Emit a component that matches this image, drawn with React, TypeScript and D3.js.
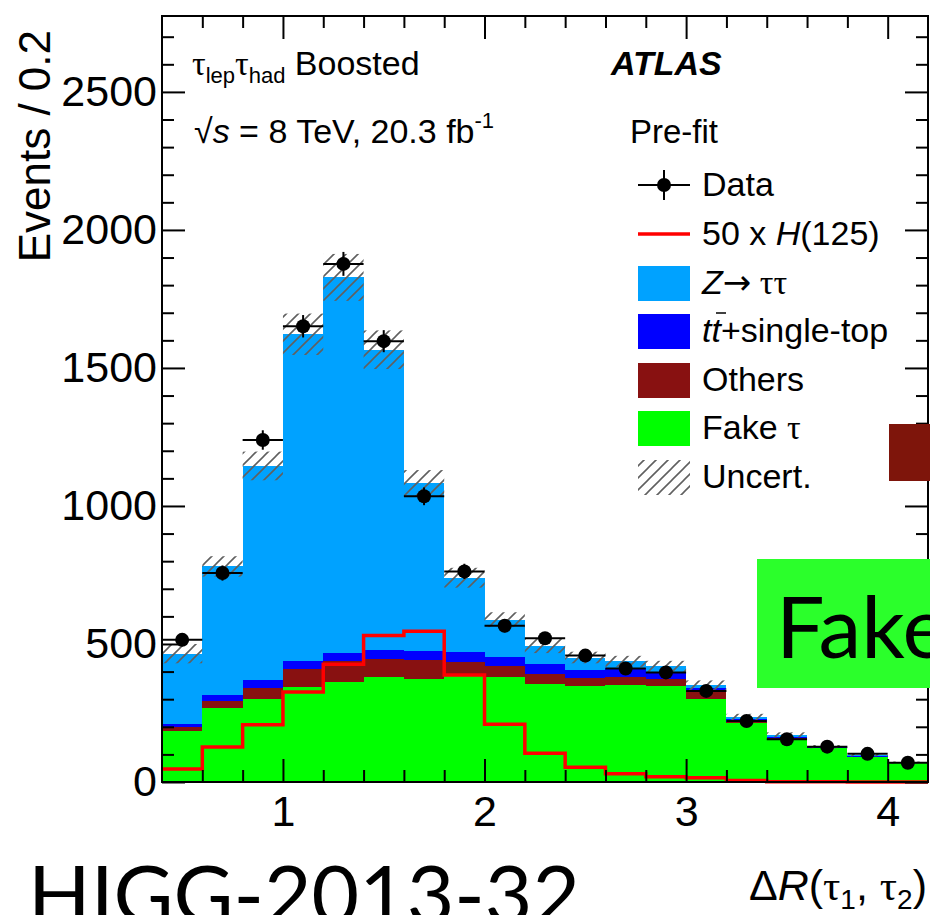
import { useEffect, useRef } from "react";
import * as d3 from "d3";

// ΔR(τ1, τ2) bins, width 0.2
const binCenters = [0.5, 0.7, 0.9, 1.1, 1.3, 1.5, 1.7, 1.9, 2.1, 2.3, 2.5, 2.7, 2.9, 3.1, 3.3, 3.5, 3.7, 3.9, 4.1];
const binWidth = 0.2;

const dataCounts = [515, 757, 1239, 1651, 1877, 1597, 1035, 763, 566, 521, 458, 411, 397, 330, 221, 155, 128, 102, 70];
const fakeTau = [185, 267, 301, 344, 362, 379, 374, 385, 380, 356, 346, 350, 348, 301, 213, 155, 122, 90, 68];
const others = [16, 25, 39, 66, 77, 66, 68, 48, 42, 36, 31, 32, 25, 27, 6, 3, 2, 2, 1];
const ttbar = [9, 23, 30, 30, 28, 34, 33, 37, 30, 34, 27, 31, 25, 12, 9, 6, 2, 4, 1];
const ztautau = [255, 466, 775, 1182, 1361, 1087, 607, 270, 136, 68, 47, 24, 21, 11, 7, 7, 2, 2, 0];
const signal50 = [47, 127, 207, 326, 427, 531, 546, 388, 209, 104, 53, 30, 19, 15, 5, 1, 1, 0, 0];
const uncert = [35, 37, 52, 75, 85, 70, 48, 36, 27, 27, 21, 20, 20, 17, 12, 9, 6, 5, 4];

const xMajorTicks = [1, 2, 3, 4];
const yMajorTicks = [0, 500, 1000, 1500, 2000, 2500];

const colors: Record<string, string> = {
  fake: "#00ff00",
  others: "#881111",
  ttbar: "#0000ff",
  ztt: "#00a2ff",
};

const SANS = "'Liberation Sans', Arial, Helvetica, sans-serif";
const SERIF = "'Liberation Serif', 'DejaVu Serif', serif";

export default function App() {
  const gRef = useRef<SVGGElement>(null);

  useEffect(() => {
    if (!gRef.current) return;
    const g = d3.select(gRef.current);
    g.selectAll("*").remove();

    const x = d3.scaleLinear().domain([0.4, 4.2]).range([162, 928]);
    const y = d3.scaleLinear().domain([0, 2775]).range([782, 16]);
    const lo = (c: number) => x(c - binWidth / 2);
    const hi = (c: number) => x(c + binWidth / 2);

    const rows = binCenters.map((c, i) => ({
      c,
      fake: fakeTau[i],
      others: others[i],
      ttbar: ttbar[i],
      ztt: ztautau[i],
    }));
    const layers = d3.stack<any>().keys(["fake", "others", "ttbar", "ztt"])(rows);

    layers.forEach((layer) => {
      g.append("g")
        .selectAll("rect")
        .data(layer)
        .join("rect")
        .attr("x", (d: any) => lo(d.data.c))
        .attr("width", (d: any) => hi(d.data.c) - lo(d.data.c))
        .attr("y", (d) => y(d[1]))
        .attr("height", (d) => y(d[0]) - y(d[1]))
        .attr("fill", colors[layer.key])
        .attr("shape-rendering", "crispEdges");
    });

    // uncertainty band (hatched)
    const totals = rows.map((r) => r.fake + r.others + r.ttbar + r.ztt);
    g.append("g")
      .selectAll("rect")
      .data(binCenters)
      .join("rect")
      .attr("x", (c) => lo(c))
      .attr("width", (c) => hi(c) - lo(c))
      .attr("y", (_, i) => y(totals[i] + uncert[i]))
      .attr("height", (_, i) => y(totals[i] - uncert[i]) - y(totals[i] + uncert[i]))
      .attr("fill", "url(#hatch)");

    // 50 x H(125) as step outline
    const sigPts: [number, number][] = binCenters.flatMap((c, i) => [
      [lo(c), y(signal50[i])] as [number, number],
      [hi(c), y(signal50[i])] as [number, number],
    ]);
    g.append("path")
      .attr("d", d3.line()(sigPts))
      .attr("fill", "none")
      .attr("stroke", "#ff0000")
      .attr("stroke-width", 3.5);

    // data points with error bars
    const dg = g.append("g");
    binCenters.forEach((c, i) => {
      const v = dataCounts[i];
      const e = Math.sqrt(v);
      dg.append("line")
        .attr("x1", lo(c)).attr("x2", hi(c))
        .attr("y1", y(v)).attr("y2", y(v))
        .attr("stroke", "#000").attr("stroke-width", 2);
      dg.append("line")
        .attr("x1", x(c)).attr("x2", x(c))
        .attr("y1", y(v - e)).attr("y2", y(v + e))
        .attr("stroke", "#000").attr("stroke-width", 2);
      dg.append("circle")
        .attr("cx", x(c)).attr("cy", y(v)).attr("r", 7)
        .attr("fill", "#000");
    });

    // axes with inward ticks
    const xMinor = d3.range(3, 21).filter((k) => k % 5 !== 0).map((k) => k * 0.2);
    const yMinor = d3.range(1, 28).filter((k) => k % 5 !== 0).map((k) => k * 100);

    const style = (sel: any, labels: boolean) => {
      sel.select(".domain").remove();
      sel.selectAll("line").attr("stroke", "#000").attr("stroke-width", 2);
      sel.attr("font-size", 43).attr("font-family", SANS);
      if (labels) sel.selectAll("text").attr("fill", "#000");
    };

    g.append("g").attr("transform", "translate(0,782)")
      .call(d3.axisBottom(x).tickValues(xMajorTicks).tickSizeInner(-23).tickSizeOuter(0).tickPadding(13).tickFormat(d3.format("d")))
      .call((s) => style(s, true));
    g.append("g").attr("transform", "translate(0,782)")
      .call(d3.axisBottom(x).tickValues(xMinor).tickSizeInner(-12).tickSizeOuter(0).tickFormat(() => ""))
      .call((s) => style(s, false));
    g.append("g").attr("transform", "translate(0,16)")
      .call(d3.axisTop(x).tickValues(xMajorTicks).tickSizeInner(-23).tickSizeOuter(0).tickFormat(() => ""))
      .call((s) => style(s, false));
    g.append("g").attr("transform", "translate(0,16)")
      .call(d3.axisTop(x).tickValues(xMinor).tickSizeInner(-12).tickSizeOuter(0).tickFormat(() => ""))
      .call((s) => style(s, false));

    g.append("g").attr("transform", "translate(162,0)")
      .call(d3.axisLeft(y).tickValues(yMajorTicks).tickSizeInner(-23).tickSizeOuter(0).tickPadding(5).tickFormat(d3.format("d")))
      .call((s) => style(s, true));
    g.append("g").attr("transform", "translate(162,0)")
      .call(d3.axisLeft(y).tickValues(yMinor).tickSizeInner(-12).tickSizeOuter(0).tickFormat(() => ""))
      .call((s) => style(s, false));
    g.append("g").attr("transform", "translate(928,0)")
      .call(d3.axisRight(y).tickValues(yMajorTicks).tickSizeInner(-23).tickSizeOuter(0).tickFormat(() => ""))
      .call((s) => style(s, false));
    g.append("g").attr("transform", "translate(928,0)")
      .call(d3.axisRight(y).tickValues(yMinor).tickSizeInner(-12).tickSizeOuter(0).tickFormat(() => ""))
      .call((s) => style(s, false));

    // frame
    g.append("rect")
      .attr("x", x(0.4)).attr("y", y(2775))
      .attr("width", x(4.2) - x(0.4)).attr("height", y(0) - y(2775))
      .attr("fill", "none").attr("stroke", "#000").attr("stroke-width", 2);
  }, []);

  const legendRows = [185, 234, 283, 331, 380, 428, 477];

  return (
    <svg
      width={930}
      height={915}
      style={{ position: "absolute", left: 0, top: 0, background: "#fff" }}
      fontFamily={SANS}
    >
      <defs>
        <pattern id="hatch" patternUnits="userSpaceOnUse" width={12} height={12}>
          <path d="M-3,3 L3,-3 M0,12 L12,0 M9,15 L15,9" stroke="#606060" strokeWidth={1.6} />
        </pattern>
      </defs>
      <rect x={0} y={0} width={930} height={915} fill="#fff" />
      <g ref={gRef} />

      {/* labels */}
      <text x={192} y={75} fontSize={34}>
        <tspan fontFamily={SERIF}>τ</tspan>
        <tspan fontSize={22} dy={8}>lep</tspan>
        <tspan fontFamily={SERIF} dy={-8}>τ</tspan>
        <tspan fontSize={22} dy={8}>had</tspan>
        <tspan dy={-8}> Boosted</tspan>
      </text>
      <text x={194} y={143} fontSize={34}>
        √<tspan fontStyle="italic">s</tspan> = 8 TeV, 20.3 fb
        <tspan fontSize={22} dy={-15}>-1</tspan>
      </text>
      <text x={611} y={75} fontSize={34} fontWeight="bold" fontStyle="italic">ATLAS</text>
      <text x={630} y={143} fontSize={33}>Pre-fit</text>

      {/* legend */}
      <line x1={638} x2={690} y1={legendRows[0]} y2={legendRows[0]} stroke="#000" strokeWidth={2} />
      <line x1={664} x2={664} y1={legendRows[0] - 15} y2={legendRows[0] + 15} stroke="#000" strokeWidth={2} />
      <circle cx={664} cy={legendRows[0]} r={7} fill="#000" />
      <line x1={638} x2={690} y1={legendRows[1]} y2={legendRows[1]} stroke="#ff0000" strokeWidth={3.5} />
      <rect x={638} y={legendRows[2] - 17} width={52} height={35} fill={colors.ztt} />
      <rect x={638} y={legendRows[3] - 17} width={52} height={35} fill={colors.ttbar} />
      <rect x={638} y={legendRows[4] - 17} width={52} height={35} fill={colors.others} />
      <rect x={638} y={legendRows[5] - 17} width={52} height={35} fill={colors.fake} />
      <rect x={638} y={legendRows[6] - 17} width={52} height={35} fill="url(#hatch)" />

      <g fontSize={34}>
        <text x={702} y={legendRows[0] + 11}>Data</text>
        <text x={702} y={legendRows[1] + 11}>
          50 x <tspan fontStyle="italic">H</tspan>(125)
        </text>
        <text x={702} y={legendRows[2] + 11}>
          <tspan fontStyle="italic">Z</tspan>
          <tspan fontFamily="'DejaVu Sans', sans-serif" fontSize={34}>→</tspan>
          <tspan fontFamily={SERIF}> ττ</tspan>
        </text>
        <text x={702} y={legendRows[3] + 11}>
          <tspan fontStyle="italic">tt</tspan>+single-top
        </text>
        <line x1={716} x2={726} y1={legendRows[3] - 18} y2={legendRows[3] - 18} stroke="#000" strokeWidth={1.5} />
        <text x={702} y={legendRows[4] + 11}>Others</text>
        <text x={702} y={legendRows[5] + 11}>
          Fake <tspan fontFamily={SERIF}>τ</tspan>
        </text>
        <text x={702} y={legendRows[6] + 11}>Uncert.</text>
      </g>

      {/* axis titles */}
      <text transform="translate(50,30) rotate(-90)" textAnchor="end" fontSize={44}>
        Events / 0.2
      </text>
      <text x={927} y={900} textAnchor="end" fontSize={43}>
        Δ<tspan fontStyle="italic">R</tspan>(<tspan fontFamily={SERIF}>τ</tspan>
        <tspan fontSize={28} dy={9}>1</tspan>
        <tspan dy={-9}>, </tspan>
        <tspan fontFamily={SERIF}>τ</tspan>
        <tspan fontSize={28} dy={9}>2</tspan>
        <tspan dy={-9}>)</tspan>
      </text>

      {/* slide overlays */}
      <rect x={889} y={424} width={41} height={57} fill="#7e150b" />
      <rect x={757} y={559} width={173} height={129} fill="#2bff2b" />
      <text x={776} y={658} fontSize={86} fontFamily="Lato, 'Open Sans', sans-serif">Fake</text>
      <text x={28} y={924} fontSize={82} fontFamily="Lato, 'Open Sans', sans-serif" textLength={552} lengthAdjust="spacingAndGlyphs">
        HIGG-2013-32
      </text>
    </svg>
  );
}
